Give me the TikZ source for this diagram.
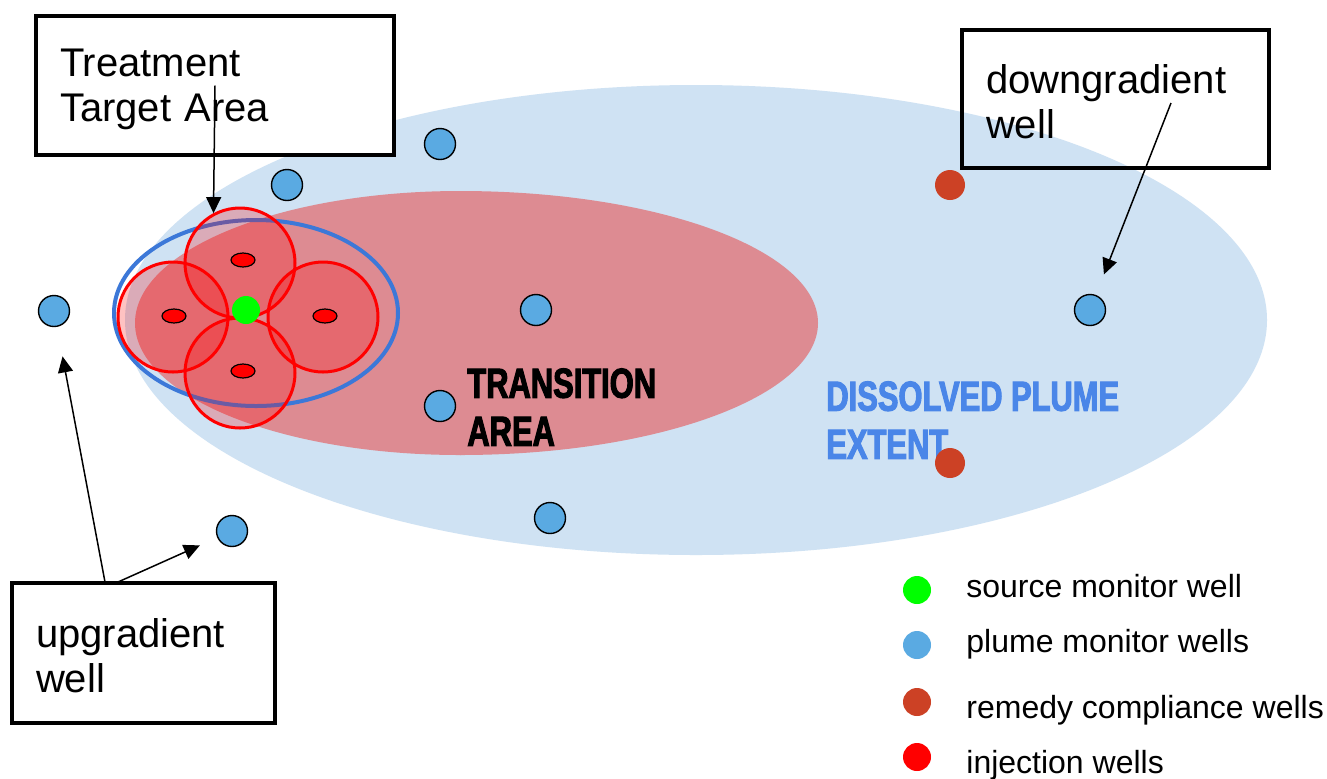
\documentclass[tikz,border=0pt]{standalone}
\usepackage{fontspec}
\setmainfont{Liberation Sans}
\newfontfamily\capsfont{Liberation Sans}[UprightFont=* Bold, FakeStretch=0.735, FakeBold=2.5]
\usetikzlibrary{shapes.geometric}
\usetikzlibrary{arrows.meta}

\definecolor{extentblue}{RGB}{207,226,243}
\definecolor{transpink}{RGB}{221,139,146}
\definecolor{ringblue}{RGB}{60,120,216}
\definecolor{plumeblue}{RGB}{90,170,226}
\definecolor{remedyred}{RGB}{204,65,37}
\definecolor{extenttext}{RGB}{74,134,232}

\begin{document}
\begin{tikzpicture}[x=0.5pt, y=-0.5pt,
                      plumewell/.style={circle, draw=black, line width=0.7pt, fill=plumeblue, minimum size=15.5pt, inner sep=0pt},
                      remedywell/.style={circle, fill=remedyred, minimum size=15pt, inner sep=0pt},
                      injwell/.style={ellipse, draw=black, line width=0.6pt, fill=red, minimum width=12pt, minimum height=7pt, inner sep=0pt},
                      srcwell/.style={circle, fill=green, minimum size=14pt, inner sep=0pt},
                      zonecircle/.style={circle, draw=red, line width=1.5pt, fill=red, fill opacity=0.24, minimum size=55pt, inner sep=0pt},
                      labelbox/.style={rectangle, draw=black, line width=2pt, align=left, inner xsep=12pt, font=\fontsize{20}{22.5}\selectfont, execute at begin node={\rule{0pt}{17.5pt}}},
                      capslabel/.style={anchor=north west, align=left, inner sep=0pt, font=\capsfont\fontsize{21}{24}\selectfont},
                      legdot/.style={circle, minimum size=14pt, inner sep=0pt},
                      legtext/.style={anchor=base west, inner sep=0pt, font=\fontsize{16}{19}\selectfont},
                      pointer/.style={-{Triangle[length=8pt,width=7.5pt]}, line width=0.75pt},
                  ]
                  \useasboundingbox[fill=white] (0,0) rectangle (1327,778);

                  %Zones
                  \fill[extentblue] (696,320) ellipse [x radius=285.5pt, y radius=117.5pt];
                  \begin{scope}
                      \clip (0,0) rectangle (461,778);
                      \fill[transpink] (460,323) ellipse [x radius=162.5pt, y radius=66pt];
                  \end{scope}
                  \begin{scope}
                      \clip (460,0) rectangle (1327,778);
                      \fill[transpink] (460,323) ellipse [x radius=179pt, y radius=66pt];
                  \end{scope}
                  \draw[ringblue, line width=2pt] (256,313) ellipse [x radius=71pt, y radius=46.5pt];

                  %Treatment circles
                  \node[zonecircle] (zone_e) at (323,317) {};
                  \node[zonecircle] (zone_s) at (240,373) {};
                  \node[zonecircle] (zone_n) at (240,263) {};
                  \node[zonecircle] (zone_w) at (173,317) {};

                  %Wells
                  \node[injwell]    (inj_n)  at (243,260) {};
                  \node[injwell]    (inj_w)  at (174,316) {};
                  \node[injwell]    (inj_e)  at (325,316) {};
                  \node[injwell]    (inj_s)  at (243,371) {};
                  \node[srcwell]    (src)    at (246,310) {};

                  \node[plumewell]  (w1)     at (54,311)  {};
                  \node[plumewell]  (w2)     at (287,185) {};
                  \node[plumewell]  (w3)     at (440,144) {};
                  \node[plumewell]  (w4)     at (536,310) {};
                  \node[plumewell]  (w5)     at (440,406) {};
                  \node[plumewell]  (w6)     at (550,518) {};
                  \node[plumewell]  (w7)     at (232,531) {};
                  \node[plumewell]  (w8)     at (1090,310) {};

                  %Zone labels
                  \node[capslabel, text=black]      (transition) at (467,368) {TRANSITION\\AREA};
                  \node[capslabel, text=extenttext] (dissolved)  at (826,381) {DISSOLVED PLUME\\EXTENT};

                  \node[remedywell] (r1)     at (950,185) {};
                  \node[remedywell] (r2)     at (950,463) {};

                  %Boxes
                  \node[labelbox, fill=white, text width=155pt, minimum height=69.5pt] (tta) at (215,85.5)    {Treatment\\Target Area};
                  \node[labelbox, text width=129.5pt, minimum height=69pt]            (dgw) at (1115.5,99)   {downgradient\\well};
                  \node[labelbox, fill=white, text width=107.5pt, minimum height=70pt] (upw) at (143.5,653)   {upgradient\\well};

                  \coordinate (dg_start)  at (1171,103);
                  \coordinate (up_start1) at (105,582);
                  \coordinate (up_start2) at (118,582);

                  %Arrows
                  \draw[pointer] (tta.center) -- (zone_n.118);
                  \draw[pointer, shorten >=11pt] (dg_start) -- (w8);
                  \draw[pointer, shorten >=15pt] (up_start1) -- (w1);
                  \draw[pointer, shorten >=9.5pt] (up_start2) -- (w7);

                  %Legend
                  \node[legdot, fill=green]      (leg_src)   at (917,590) {};
                  \node[legdot, fill=plumeblue]  (leg_plume) at (917,645) {};
                  \node[legdot, fill=remedyred]  (leg_rem)   at (917,702) {};
                  \node[legdot, fill=red]        (leg_inj)   at (917,757) {};
                  \node[legtext] (txt_src)   at (966,597) {source monitor well};
                  \node[legtext] (txt_plume) at (966,652) {plume monitor wells};
                  \node[legtext] (txt_rem)   at (966,718) {remedy compliance wells};
                  \node[legtext] (txt_inj)   at (966,773) {injection wells};
              \end{tikzpicture}
\end{document}
